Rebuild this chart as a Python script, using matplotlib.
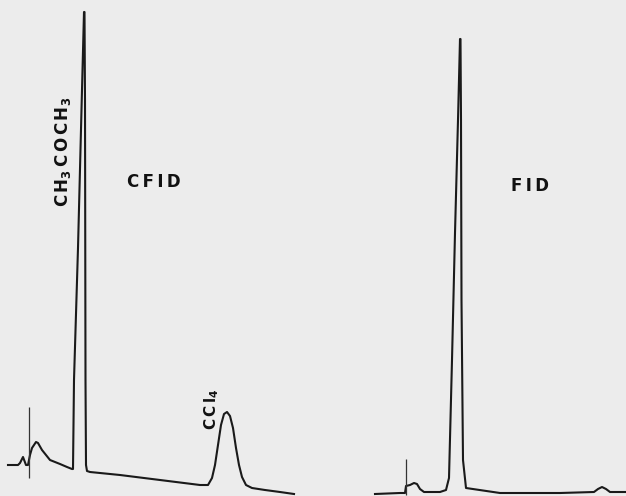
import matplotlib
matplotlib.use("Agg")
import matplotlib.pyplot as plt

# CFID trace (left) - position along recorder chart vs. detector response
cfid_t = [8, 18, 20, 23, 26, 28, 30, 32, 36, 38, 42, 50, 60, 67, 72, 73, 74, 78, 82, 84,
          84.5, 85, 85.5, 86, 87, 90, 120, 160, 200, 208, 212, 215, 218, 221, 224, 227, 230,
          233, 236, 239, 242, 246, 252, 265, 280, 294]
cfid_resp = [31, 31, 33, 39, 31, 31, 41, 48, 54, 53, 46, 36, 32, 29, 27, 27, 116, 248, 406, 484,
             484, 396, 116, 31, 25, 24, 21, 16, 11, 11, 18, 31, 51, 71, 82, 84, 80,
             68, 48, 31, 19, 11, 8, 6, 4, 2]

# FID trace (right)
fid_t = [375, 400, 405, 406, 410, 414, 417, 420, 424, 440, 446, 449, 452, 455, 458, 460,
         460.5, 461, 461.5, 463, 466, 500, 560, 594, 598, 602, 606, 610, 626]
fid_resp = [2, 3, 3, 10, 11, 13, 12, 7, 4, 4, 6, 18, 136, 263, 376, 457,
            457, 376, 196, 36, 8, 3, 3, 4, 7, 9, 7, 4, 4]

# injection marks
inj_t = [29, 406]
inj_lo = [18, 1]
inj_hi = [89, 37]

fig = plt.figure(figsize=(6.26, 4.96), dpi=100)
fig.patch.set_facecolor('#ececec')
ax = fig.add_axes([0, 0, 1, 1])
ax.set_facecolor('#ececec')

ax.plot(cfid_t, cfid_resp, color='#1a1a1a', lw=1.5, solid_joinstyle='round')
ax.plot(fid_t, fid_resp, color='#1a1a1a', lw=1.5, solid_joinstyle='round')
ax.vlines(inj_t, inj_lo, inj_hi, color='#333333', lw=0.9)

ax.set_xlim(0, 626)
ax.set_ylim(0, 496)
ax.axis('off')

lab = dict(color='#111111', fontweight='bold', ha='center', va='center')
ax.text(154, 314, 'C\u2009F\u2009I\u2009D', fontsize=12, **lab)
ax.text(530, 310, 'F\u2009I\u2009D', fontsize=12, **lab)
ax.text(63, 344, r'$\mathbf{C\,H_3\,C\,O\,C\,H_3}$', fontsize=12, rotation=90, **lab)
ax.text(212, 87, r'$\mathbf{C\,C\,l_4}$', fontsize=11, rotation=90, **lab)

fig.savefig('out.png', dpi=100, facecolor=fig.get_facecolor())
